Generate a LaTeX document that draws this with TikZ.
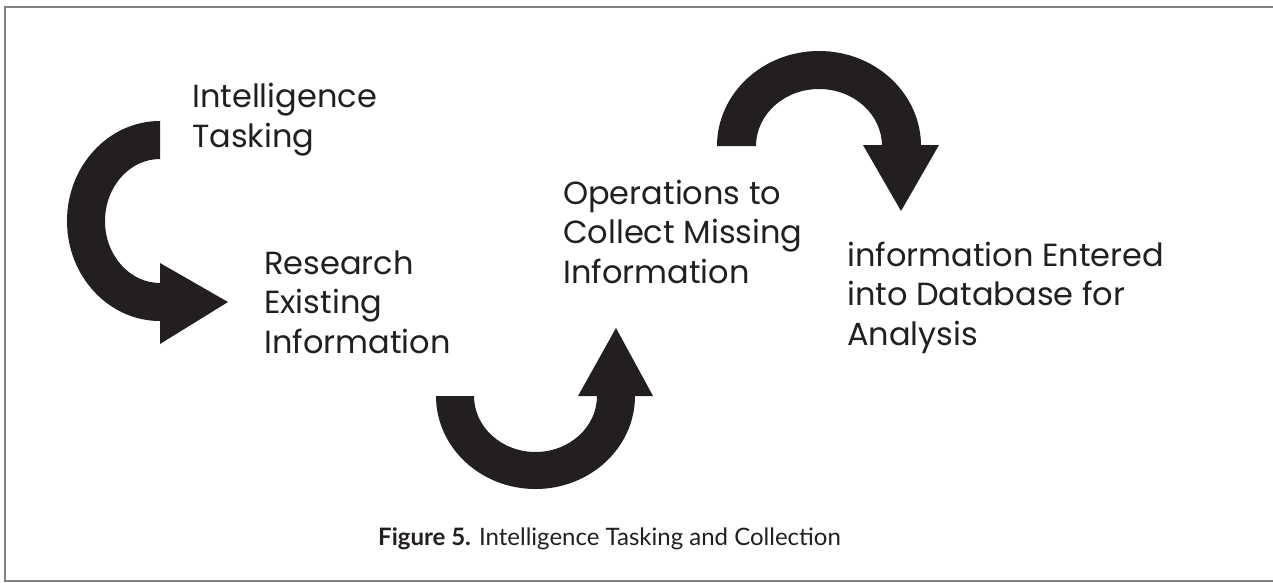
\documentclass[tikz,border=0pt]{standalone}
\usepackage{fontspec}
\setmainfont{Poppins}
\newfontfamily\capfont{Lato}
\definecolor{arrowblack}{RGB}{35,31,32}

\begin{document}
\begin{tikzpicture}[x=1pt, y=1pt]
	\tikzstyle{stagetext} = [anchor=base west, align=left, inner sep=0pt, font=\fontsize{32}{39.5}\selectfont, text=arrowblack]
	\tikzstyle{figcaption} = [anchor=base west, inner sep=0pt, font=\capfont\fontsize{24}{28}\selectfont, text=arrowblack]
	\tikzstyle{bentarrow} = [fill=arrowblack]
	\useasboundingbox (0,0) rectangle (1273,-583);
	\draw[gray, line width=1.5pt] (5,-7) rectangle (1290,-581);
	% centres of the three bent arrows
	\coordinate (c1) at (160,-221);
	\coordinate (c2) at (535.5,-396);
	\coordinate (c3) at (819,-146);
	% tasking -> research
	\fill[bentarrow] (c1) ++(0,100) arc[start angle=90, end angle=270, x radius=93, y radius=100] -- ++(0,38) arc[start angle=270, end angle=90, x radius=55, y radius=62] -- cycle;
	\fill[bentarrow] (c1) ++(0,-42) -- ++(68,-39) -- ++(-68,-42) -- cycle;
	% research -> operations
	\fill[bentarrow] (c2) ++(-99.5,0) arc[start angle=180, end angle=360, x radius=99.5, y radius=93] -- ++(-38,0) arc[start angle=0, end angle=-180, x radius=61.5, y radius=56] -- cycle;
	\fill[bentarrow] (c2) ++(42.5,0) -- ++(38,68) -- ++(37,-68) -- cycle;
	% operations -> database
	\fill[bentarrow] (c3) ++(-102,0) arc[start angle=180, end angle=0, x radius=102, y radius=95] -- ++(-39,0) arc[start angle=0, end angle=180, x radius=63, y radius=57] -- cycle;
	\fill[bentarrow] (c3) ++(44,1) -- ++(38,-66) -- ++(38,66) -- cycle;
	% anchors sit on the last baseline of each text
	\node[stagetext] (tasking) at (192,-147) {Intelligence\\Tasking};
	\node[stagetext] (research) at (264,-353) {Research\\Existing\\Information};
	\node[stagetext] (operations) at (563,-283) {Operations to\\Collect Missing\\Information};
	\node[stagetext] (entered) at (847,-345) {information Entered\\into Database for\\Analysis};
	\node[figcaption] (caption) at (378,-545) {\textbf{Figure 5.} Intelligence Tasking and Collection};
\end{tikzpicture}
\end{document}
